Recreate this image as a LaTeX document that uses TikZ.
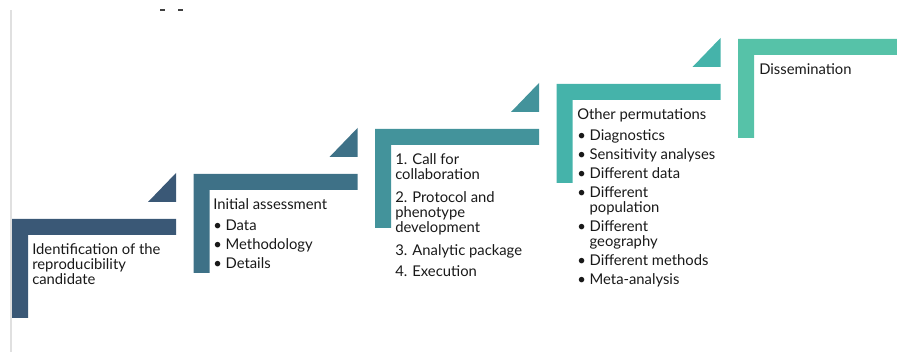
\documentclass[tikz,border=0pt]{standalone}
\usepackage{fontspec}
\setmainfont{Lato}
\usetikzlibrary{positioning}

\definecolor{stepone}{HTML}{3A5876}
\definecolor{steptwo}{HTML}{3E7187}
\definecolor{stepthree}{HTML}{43939B}
\definecolor{stepfour}{HTML}{45B3AA}
\definecolor{stepfive}{HTML}{56C2A8}

\tikzset{
  steptext/.style={anchor=north west, inner sep=0pt, align=left,
    text=black!90, font=\fontsize{11.1}{11.25}\selectfont},
}
\newcommand{\bul}{\textbullet\ }
\newcommand{\cont}{\hphantom{\textbullet\ }}

\begin{document}
\begin{tikzpicture}[x=0.75pt,y=-0.75pt]
        \useasboundingbox (0,0) rectangle (897,352);

        % Draw the left rule and the marks at the top
        \draw[black!12, line width=1.5pt] (11,10) -- (11,352);
        \draw[black!75, line width=1pt] (160,10) -- (165,10) (178,10) -- (183,10);

        % Draw the stairs, one step per colour
        \foreach \i/\col in {0/stepone,1/steptwo,2/stepthree,3/stepfour,4/stepfive} {
            \pgfmathsetmacro\xl{12+181.5*\i}
            \pgfmathsetmacro\yt{219-45*\i}
            \fill[\col] (\xl,\yt) -- ++(164,0) -- ++(0,16) -- ++(-148,0)
                -- ++(0,83) -- ++(-16,0) -- cycle;
            \ifnum\i<4
                \fill[\col] (\xl+136,\yt-17) -- (\xl+164,\yt-46) -- (\xl+164,\yt-17) -- cycle;
            \fi
        }

        % Draw the step texts
        \node[steptext] (ident) at (32,243) {Identification of the\\reproducibility\\candidate};
        \node[steptext] (assess) at (213,198) {Initial assessment\\[5pt]
            \bul Data\\[3pt] \bul Methodology\\[3pt] \bul Details};
        \node[steptext] (collab) at (395,153) {1. Call for\\collaboration\\[6pt]
            2. Protocol and\\phenotype\\development\\[6pt]
            3. Analytic package\\[5pt] 4. Execution};
        \node[steptext] (permut) at (577,108) {Other permutations\\[5pt]
            \bul Diagnostics\\[3pt] \bul Sensitivity analyses\\[3pt]
            \bul Different data\\[3pt] \bul Different\\ \cont population\\[3pt]
            \bul Different\\ \cont geography\\[3pt] \bul Different methods\\[3pt]
            \bul Meta-analysis};
        \node[steptext] (dissem) at (759,63) {Dissemination};
\end{tikzpicture}
\end{document}
